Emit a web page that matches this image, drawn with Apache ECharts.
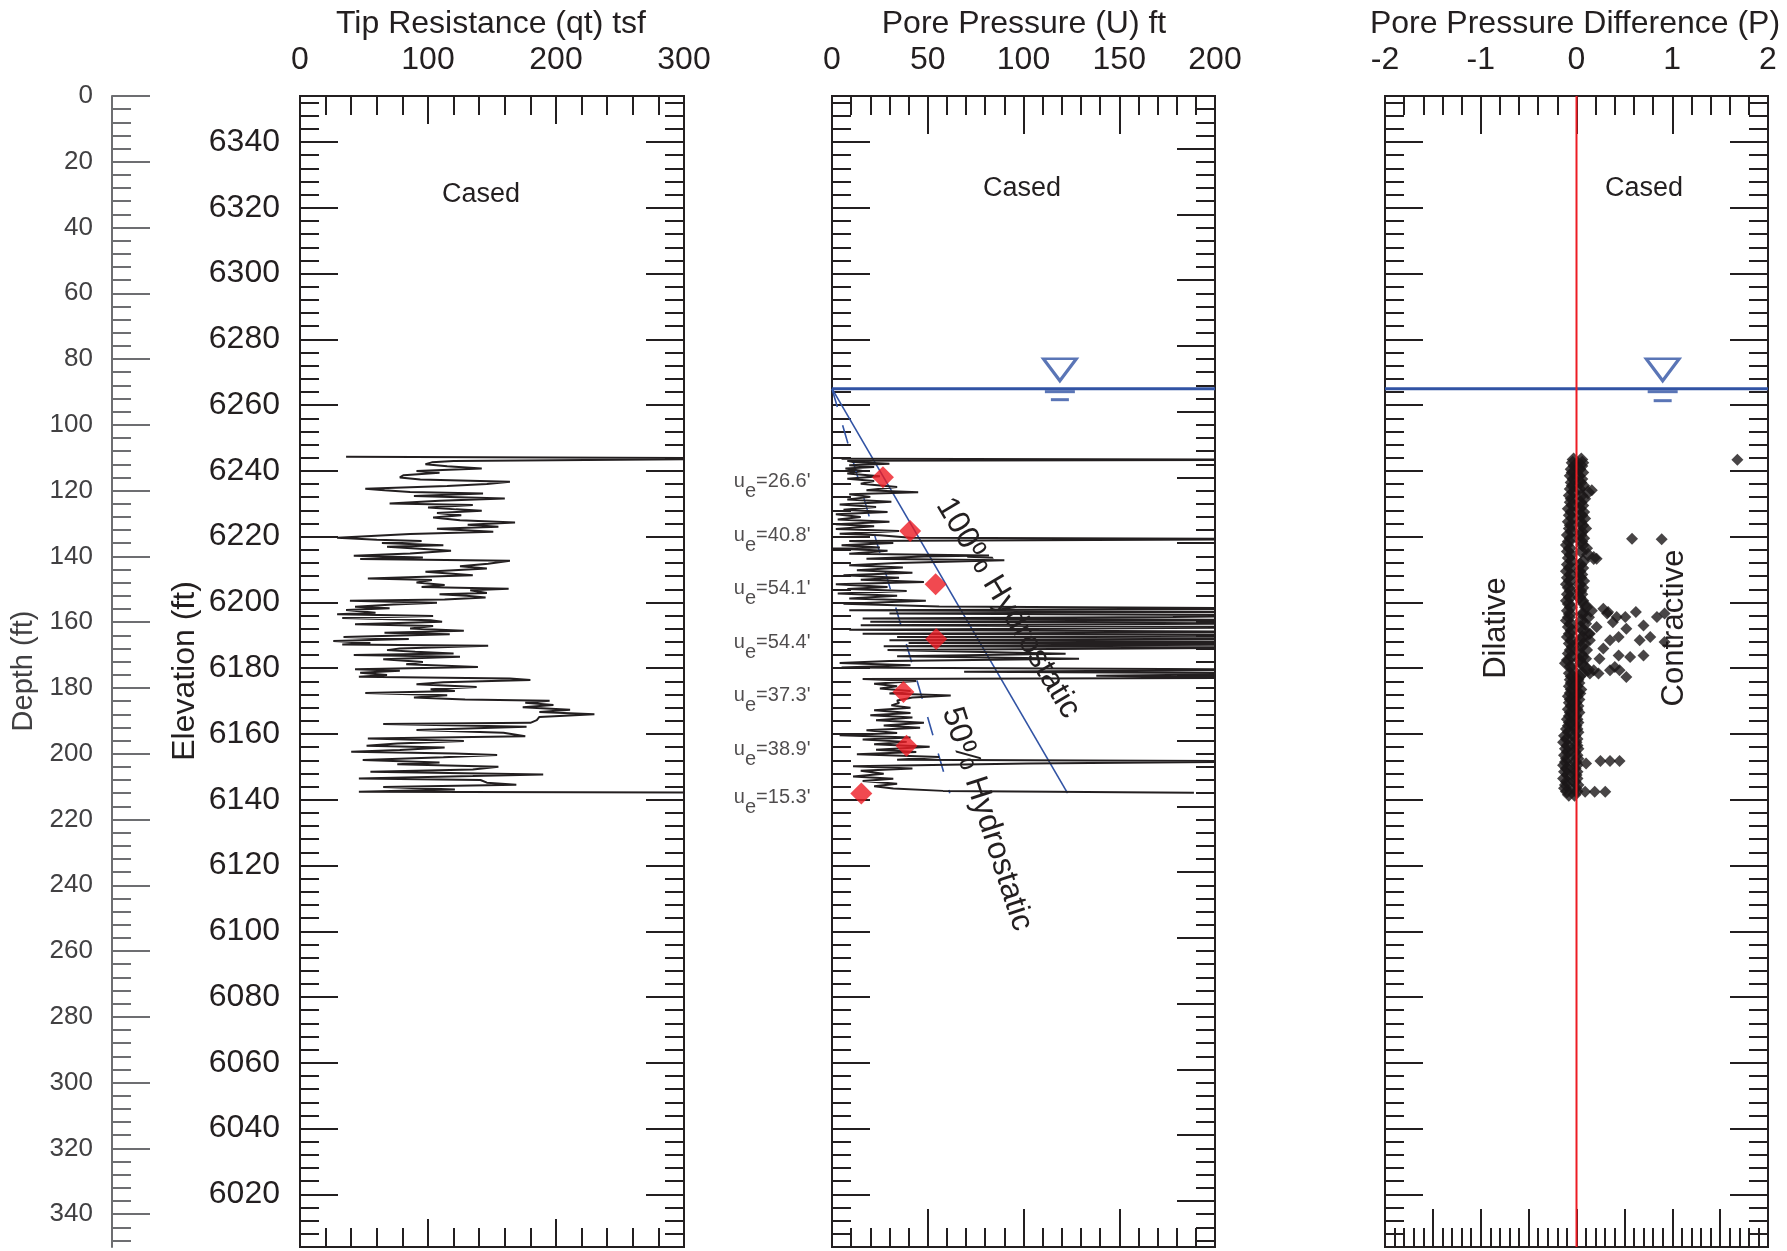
<!DOCTYPE html>
<html>
<head>
<meta charset="utf-8" />
<title>CPT Sounding Log</title>
<script src="https://cdn.jsdelivr.net/npm/echarts@6.0.0/dist/echarts.min.js"></script>
<style>
  html, body { margin: 0; padding: 0; background: #fff; }
  #chart { width: 1787px; height: 1251px; }
</style>
</head>
<body>
<div id="chart"></div>
<script type="text/javascript">
  var FONT = '"Liberation Sans", Arial, Helvetica, sans-serif';
  var INK = '#231f20';
  var GREY = '#6d6e71';
  var BLUE = '#3153a4';
  var RED = '#ed1c24';

  // depth frame
  var DEPTH_MAX = 350;
  var GROUND_ELEV = 6354;
  var WATER_DEPTH = 89;

  var depthTicks = [0, 20, 40, 60, 80, 100, 120, 140, 160, 180, 200, 220, 240, 260, 280, 300, 320, 340];
  var elevTicks = [6340, 6320, 6300, 6280, 6260, 6240, 6220, 6200, 6180, 6160, 6140, 6120, 6100, 6080, 6060, 6040, 6020];
  // the right-hand scale of the pore pressure panel is drawn 2 ft lower
  var poreRightTicks = [16, 36, 56, 76, 96, 116, 136, 156, 176, 196, 216, 236, 256, 276, 296, 316, 336];

  // tip resistance qt (tsf) against depth (ft)
  var tipDepth = [109.7, 110.2, 111.0, 111.4, 112.0, 112.6, 113.3, 114.0, 114.6, 115.3, 116.0, 116.6, 117.3, 118.0, 118.6,
    119.4, 119.9, 120.4, 120.9, 121.6, 122.4, 123.1, 123.9, 124.4, 125.1, 125.7, 126.1, 126.8, 127.5, 128.2, 129.0, 129.7,
    130.4, 131.0, 131.6, 132.5, 133.2, 134.3, 134.9, 135.3, 135.9, 136.6, 137.1, 137.8, 138.3, 139.1, 139.8, 140.3, 140.8,
    141.3, 142.2, 143.0, 143.7, 144.7, 145.7, 146.7, 147.2, 147.9, 148.7, 149.3, 149.8, 150.3, 151.1, 151.5, 152.0, 152.5,
    153.1, 153.5, 154.1, 154.6, 155.3, 155.8, 156.3, 157.1, 157.6, 158.1, 158.7, 159.4, 159.9, 160.6, 161.2, 161.9, 162.6,
    163.2, 163.7, 164.5, 165.1, 165.7, 166.3, 166.8, 167.2, 168.0, 168.5, 169.0, 169.5, 170.0, 170.5, 171.3, 172.1, 172.8,
    173.6, 174.3, 174.8, 175.4, 176.1, 176.6, 177.1, 177.6, 178.3, 178.9, 179.7, 180.4, 180.9, 181.5, 182.2, 182.9, 183.5,
    183.9, 184.5, 185.2, 185.9, 186.6, 187.3, 188.0, 188.8, 189.8, 190.6, 191.0, 191.8, 192.8, 193.6, 194.7, 195.4, 196.1,
    196.9, 197.6, 198.1, 198.9, 199.4, 199.9, 200.4, 201.1, 201.9, 202.7, 203.2, 204.0, 204.8, 205.5, 206.3, 206.8, 207.5,
    208.0, 208.8, 209.4, 210.1, 210.9, 211.6, 211.9];
  var tipQt = [36, 400, 120, 103, 98, 115, 142, 91, 109, 81, 78, 94, 164, 146, 115,
    51, 66, 86, 143, 89, 160, 109, 70, 135, 100, 122, 142, 107, 126, 104, 125, 168,
    131, 155, 107, 151, 86, 29, 60, 95, 64, 112, 68, 100, 118, 86, 42, 96, 47,
    164, 147, 125, 146, 98, 135, 53, 103, 91, 113, 95, 163, 133, 146, 109, 130, 145,
    113, 39, 107, 73, 43, 70, 36, 59, 29, 104, 33, 102, 111, 43, 104, 86, 128,
    66, 117, 34, 85, 26, 55, 33, 147, 78, 68, 90, 120, 42, 125, 65, 96, 83,
    139, 43, 78, 47, 68, 46, 164, 180, 112, 91, 138, 102, 121, 51, 115, 89, 129,
    195, 176, 198, 174, 211, 187, 230, 187, 185, 180, 65, 177, 91, 159, 176, 53, 128,
    76, 52, 113, 78, 40, 121, 154, 112, 49, 109, 76, 155, 135, 55, 190, 135, 46,
    141, 146, 169, 65, 121, 46, 400];

  // pore pressure U (ft of water) against depth (ft)
  var poreDepth = [110.3, 110.6, 110.9, 111.3, 111.8, 112.3, 112.8, 113.3, 114.0, 114.8, 115.6, 116.4, 117.1, 117.9, 118.9,
    119.9, 120.5, 121.1, 121.9, 122.7, 123.4, 124.2, 125.0, 125.8, 126.5, 127.2, 128.0, 128.8, 129.5, 130.2, 130.8, 131.7,
    132.3, 133.1, 133.6, 134.3, 134.7, 135.3, 135.9, 136.6, 137.3, 137.6, 138.3, 139.2, 139.7, 140.0, 140.7, 141.2, 142.0, 142.7,
    143.4, 144.2, 145.0, 145.7, 146.5, 147.1, 147.8, 148.5, 149.3, 149.9, 150.5, 151.3, 152.0, 152.8, 153.5, 154.4, 155.2,
    155.9, 156.4, 156.9, 157.4, 157.9, 158.4, 158.9, 159.4, 159.9, 160.4, 160.9, 161.5, 162.3, 163.0, 163.5, 164.0, 164.5,
    165.0, 165.5, 166.0, 166.3, 166.7, 167.3, 167.7, 168.5, 169.6, 170.4, 171.1, 171.8, 172.4, 173.1, 173.8, 174.4, 175.1,
    175.6, 176.3, 176.9, 177.3, 177.9, 178.7, 179.5, 180.2, 180.9, 181.7, 182.3, 182.9, 183.8, 184.6, 185.3, 186.0, 186.8,
    187.6, 188.3, 189.0, 189.8, 190.6, 191.4, 192.1, 192.9, 193.7, 194.4, 195.1, 195.7, 196.4, 197.1, 197.9, 198.8, 199.5,
    200.2, 201.0, 201.8, 202.3, 203.0, 203.8, 204.5, 205.2, 206.1, 206.9, 207.6, 208.3, 209.1, 209.9, 210.6, 211.3, 211.9];
  var poreU = [5, 250, 8, 11, 30, 9, 22, 7, 16, 8, 25, 8, 22, 15, 34,
    18, 45, 9, 20, 8, 31, 4, 23, 6, 29, 2, 15, 3, 30, 2, 22, 2,
    35, 4, 25, 41, 250, 9, 32, 5, 25, 0, 29, 9, 82, 48, 18, 90, 34, 9,
    37, 13, 42, 6, 35, 15, 48, 2, 29, 8, 39, 3, 34, 9, 49, 6, 56,
    250, 9, 250, 30, 250, 178, 16, 250, 20, 250, 15, 250, 9, 250, 16, 250, 34,
    250, 30, 250, 40, 250, 27, 250, 29, 122, 34, 129, 30, 4, 41, 5, 250, 69,
    250, 138, 250, 16, 44, 22, 34, 25, 41, 30, 62, 42, 34, 35, 31, 41, 22,
    41, 20, 42, 23, 48, 27, 46, 18, 34, 4, 41, 16, 39, 22, 51, 23, 44,
    13, 56, 34, 250, 102, 11, 42, 15, 27, 11, 32, 16, 34, 22, 32, 58, 189];

  // 100% and 50% hydrostatic lines, start and end
  var hydro100 = [[0, 89], [123, 212]];
  var hydro50 = [[0, 89], [61.5, 212]];

  // equilibrium pore pressure readings
  var ueDepth = [115.9, 132.3, 148.5, 165.1, 181.2, 197.6, 212.1];
  var ueValue = [26.6, 40.8, 54.1, 54.4, 37.3, 38.9, 15.3];

  // pore pressure difference: dense column, two readings per depth
  var diffColDepth = [110.5, 111.5, 112.5, 113.5, 114.5, 115.5, 116.5, 117.5, 118.5, 119.5,
    120.5, 121.5, 122.5, 123.5, 124.5, 125.5, 126.5, 127.5, 128.5, 129.5,
    130.5, 131.5, 132.5, 133.5, 134.5, 135.5, 136.5, 137.5, 138.5, 139.5,
    140.5, 141.5, 142.5, 143.5, 144.5, 145.5, 146.5, 147.5, 148.5, 149.5,
    150.5, 151.5, 152.5, 153.5, 154.5, 155.5, 156.5, 157.5, 158.5, 159.5,
    160.5, 161.5, 162.5, 163.5, 164.5, 165.5, 166.5, 167.5, 168.5, 169.5,
    170.5, 171.5, 172.5, 173.5, 174.5, 175.5, 176.5, 177.5, 178.5, 179.5,
    180.5, 181.5, 182.5, 183.5, 184.5, 185.5, 186.5, 187.5, 188.5, 189.5,
    190.5, 191.5, 192.5, 193.5, 194.5, 195.5, 196.5, 197.5, 198.5, 199.5,
    200.5, 201.5, 202.5, 203.5, 204.5, 205.5, 206.5, 207.5, 208.5, 209.5,
    210.5, 211.5, 212.5];
  var diffColLeft = [-0.03, -0.04, -0.02, -0.05, -0.04, -0.06, -0.03, -0.05, -0.04, -0.06,
    -0.03, -0.07, -0.05, -0.06, -0.04, -0.08, -0.05, -0.07, -0.04, -0.08,
    -0.06, -0.07, -0.05, -0.09, -0.06, -0.08, -0.10, -0.07, -0.09, -0.06,
    -0.08, -0.05, -0.09, -0.07, -0.10, -0.06, -0.09, -0.07, -0.10, -0.08,
    -0.06, -0.09, -0.07, -0.10, -0.08, -0.06, -0.09, -0.07, -0.08, -0.10,
    -0.06, -0.08, -0.05, -0.07, -0.09, -0.05, -0.07, -0.04, -0.06, -0.08,
    -0.05, -0.09, -0.11, -0.06, -0.04, -0.07, -0.05, -0.06, -0.05, -0.07,
    -0.05, -0.06, -0.08, -0.06, -0.07, -0.05, -0.08, -0.06, -0.07, -0.09,
    -0.07, -0.08, -0.10, -0.08, -0.12, -0.10, -0.13, -0.09, -0.11, -0.09,
    -0.12, -0.10, -0.11, -0.13, -0.10, -0.12, -0.09, -0.13, -0.10, -0.11,
    -0.12, -0.10, -0.08];
  var diffColRight = [0.05, 0.06, 0.05, 0.03, 0.06, 0.02, 0.05, 0.04, 0.07, 0.03,
    0.12, 0.05, 0.08, 0.04, 0.06, 0.03, 0.07, 0.05, 0.08, 0.04,
    0.06, 0.09, 0.05, 0.04, 0.07, 0.05, 0.06, 0.10, 0.05, 0.12,
    0.18, 0.07, 0.04, 0.06, 0.03, 0.05, 0.04, 0.07, 0.03, 0.06,
    0.04, 0.05, 0.03, 0.06, 0.08, 0.10, 0.15, 0.06, 0.12, 0.05,
    0.09, 0.04, 0.07, 0.12, 0.06, 0.04, 0.08, 0.05, 0.10, 0.04,
    0.06, 0.03, 0.05, 0.08, 0.12, 0.06, 0.03, 0.01, 0.02, 0.00,
    0.04, 0.01, 0.00, 0.02, -0.01, 0.01, 0.00, 0.02, -0.01, 0.00,
    0.01, -0.01, 0.00, 0.01, -0.02, 0.00, -0.01, 0.00, 0.01, -0.02,
    0.00, 0.01, -0.01, 0.00, -0.02, 0.00, -0.01, 0.00, -0.02, 0.01,
    -0.01, 0.00, -0.02];
  // scattered contractive readings [P, depth]
  var diffExtra = [[1.68, 110.6], [0.16, 119.9], [0.58, 134.6], [0.89, 134.8], [0.21, 140.7],
    [0.28, 155.9], [0.33, 156.9], [0.42, 158.4], [0.51, 158.4], [0.62, 156.9], [0.84, 158.4], [0.92, 157.4],
    [0.21, 161.5], [0.38, 160.0], [0.52, 162.0], [0.70, 161.0], [0.77, 164.5], [0.66, 165.5], [0.92, 166.0],
    [0.35, 165.5], [0.44, 164.5], [0.14, 165.5], [0.24, 171.1], [0.10, 171.1], [0.44, 170.1], [0.56, 170.6],
    [0.70, 170.1], [0.18, 174.6], [0.35, 174.6], [0.45, 174.6], [0.52, 176.7], [0.14, 175.6], [0.07, 157.4],
    [0.04, 181.7], [0.32, 157.4], [0.14, 163.5], [0.28, 168.0], [0.40, 173.6], [0.23, 175.6],
    [0.10, 203.0], [0.25, 202.2], [0.35, 202.2], [0.45, 202.2],
    [0.09, 211.6], [0.19, 211.6], [0.30, 211.6]];

  // water table symbol positions
  var waterMarkU = 119;
  var waterMarkP = 0.9;

  function pairs(xs, ys) {
    return xs.map(function (x, i) { return [x, ys[i]]; });
  }
  function tickRun(start, step, skip) {
    var out = [];
    for (var d = start; d < DEPTH_MAX; d += step) {
      if (skip.indexOf(d) < 0) out.push(d);
    }
    return out;
  }

  var elevMajor = elevTicks.map(function (e) { return GROUND_ELEV - e; });
  var elevMinor = tickRun(2, 4, elevMajor);
  var depthMinor = tickRun(4, 4, depthTicks);
  var poreRightMinor = tickRun(4, 4, poreRightTicks);

  var grids = [
    { left: 112, top: 96, width: 40, height: 1151, show: false },
    { left: 300, top: 96, width: 384, height: 1151 },
    { left: 832, top: 96, width: 383, height: 1151 },
    { left: 1385, top: 96, width: 383, height: 1151 }
  ].map(function (g, i) {
    if (i > 0) { g.show = true; g.borderColor = INK; g.borderWidth = 2; g.backgroundColor = 'transparent'; }
    return g;
  });

  function xTick(gridIndex, position, min, max, interval, len, showLabel) {
    return {
      type: 'value', gridIndex: gridIndex, position: position,
      min: min, max: max, interval: interval,
      axisLine: { show: false, onZero: false },
      splitLine: { show: false },
      axisTick: { show: true, inside: true, length: len, lineStyle: { color: INK, width: 2 } },
      minorTick: { show: true, splitNumber: 5, length: 19, lineStyle: { color: INK, width: 2 } },
      axisLabel: { show: showLabel, fontSize: 32, color: INK, fontFamily: FONT, margin: 20 }
    };
  }

  function yTick(gridIndex, position, values, len, color) {
    return {
      type: 'value', gridIndex: gridIndex, position: position, inverse: true,
      min: 0, max: DEPTH_MAX,
      axisLine: { show: false, onZero: false },
      splitLine: { show: false },
      axisTick: { show: true, inside: true, length: len, customValues: values,
        lineStyle: { color: color || INK, width: 2 } },
      axisLabel: { show: false }
    };
  }

  var xAxes = [
    { type: 'value', gridIndex: 0, min: 0, max: 1, show: false, axisLine: { onZero: false } },
    xTick(1, 'top', 0, 300, 100, 28, true),
    xTick(1, 'bottom', 0, 300, 100, 28, false),
    xTick(2, 'top', 0, 200, 50, 38, true),
    xTick(2, 'bottom', 0, 200, 50, 38, false),
    xTick(3, 'top', -2, 2, 1, 38, true),
    xTick(3, 'bottom', -2, 2, 0.5, 38, false)
  ];

  var depthAxis = yTick(0, 'left', depthTicks, 38, GREY);
  depthAxis.axisLine = { show: true, onZero: false, lineStyle: { color: GREY, width: 2 } };
  depthAxis.axisLabel = { show: true, customValues: depthTicks, fontSize: 26, color: '#414042',
    fontFamily: FONT, margin: 19 };

  var elevAxis = yTick(1, 'left', elevMajor, 38);
  elevAxis.axisLabel = { show: true, customValues: elevMajor, fontSize: 32, color: INK, fontFamily: FONT,
    margin: 20, formatter: function (v) { return String(GROUND_ELEV - v); } };

  var yAxes = [
    depthAxis,                                 // 0
    yTick(0, 'left', depthMinor, 19, GREY),    // 1
    elevAxis,                                  // 2  tip panel
    yTick(1, 'left', elevMinor, 19),           // 3
    yTick(1, 'right', elevMajor, 38),          // 4
    yTick(1, 'right', elevMinor, 19),          // 5
    yTick(2, 'left', elevMajor, 38),           // 6  pore panel
    yTick(2, 'left', elevMinor, 19),           // 7
    yTick(2, 'right', poreRightTicks, 38),     // 8
    yTick(2, 'right', poreRightMinor, 19),     // 9
    yTick(3, 'left', elevMajor, 38),           // 10 difference panel
    yTick(3, 'left', elevMinor, 19),           // 11
    yTick(3, 'right', elevMajor, 38),          // 12
    yTick(3, 'right', elevMinor, 19)           // 13
  ];

  var rich = {
    u: { fontSize: 20, fontFamily: FONT, color: INK, verticalAlign: 'middle' },
    s: { fontSize: 20, fontFamily: FONT, color: INK, verticalAlign: 'middle', padding: [20, 0, 0, 0] },
    t: { fontSize: 20, fontFamily: FONT, color: INK, verticalAlign: 'middle' }
  };

  var hollow = { color: 'rgba(0,0,0,0)', borderColor: BLUE, borderWidth: 3 };
  var TRI = 'path://M0,0L36,0L18,24Z';

  var series = [
    { name: 'qt', type: 'line', xAxisIndex: 1, yAxisIndex: 2, data: pairs(tipQt, tipDepth),
      symbol: 'none', lineStyle: { color: INK, width: 2 }, clip: true, z: 3 },
    { name: 'hydro100', type: 'line', xAxisIndex: 3, yAxisIndex: 6, data: hydro100,
      symbol: 'none', lineStyle: { color: BLUE, width: 1.6 }, z: 2 },
    { name: 'hydro50', type: 'line', xAxisIndex: 3, yAxisIndex: 6, data: hydro50,
      symbol: 'none', lineStyle: { color: BLUE, width: 1.6, type: [19, 19] }, z: 2 },
    { name: 'U', type: 'line', xAxisIndex: 3, yAxisIndex: 6, data: pairs(poreU, poreDepth),
      symbol: 'none', lineStyle: { color: INK, width: 2 }, clip: true, z: 3 },
    { name: 'water2', type: 'line', xAxisIndex: 3, yAxisIndex: 6,
      data: [[0, WATER_DEPTH], [200, WATER_DEPTH]], symbol: 'none', lineStyle: { color: BLUE, width: 3 }, z: 4 },
    { name: 'water3', type: 'line', xAxisIndex: 5, yAxisIndex: 10,
      data: [[-2, WATER_DEPTH], [2, WATER_DEPTH]], symbol: 'none', lineStyle: { color: BLUE, width: 3 }, z: 4 },
    { name: 'wtMark', type: 'scatter', xAxisIndex: 3, yAxisIndex: 6, z: 4,
      data: [
        { value: [waterMarkU, WATER_DEPTH], symbol: TRI, symbolSize: [33, 22], symbolOffset: [0, -19], itemStyle: hollow },
        { value: [waterMarkU, WATER_DEPTH], symbol: 'rect', symbolSize: [30, 3], symbolOffset: [0, 3] },
        { value: [waterMarkU, WATER_DEPTH], symbol: 'rect', symbolSize: [18, 3], symbolOffset: [0, 11] }
      ],
      itemStyle: { color: BLUE } },
    { name: 'wtMark3', type: 'scatter', xAxisIndex: 5, yAxisIndex: 10, z: 4,
      data: [
        { value: [waterMarkP, WATER_DEPTH], symbol: TRI, symbolSize: [33, 22], symbolOffset: [0, -19], itemStyle: hollow },
        { value: [waterMarkP, WATER_DEPTH], symbol: 'rect', symbolSize: [30, 3], symbolOffset: [0, 3] },
        { value: [waterMarkP, WATER_DEPTH], symbol: 'rect', symbolSize: [18, 3], symbolOffset: [0, 12] }
      ],
      itemStyle: { color: BLUE } },
    { name: 'ue', type: 'scatter', xAxisIndex: 3, yAxisIndex: 6, data: pairs(ueValue, ueDepth),
      symbol: 'diamond', symbolSize: 22, itemStyle: { color: RED }, z: 6 },
    { name: 'ueLabel', type: 'scatter', xAxisIndex: 3, yAxisIndex: 6,
      data: ueDepth.map(function (d, i) { return [0, d, ueValue[i]]; }),
      symbolSize: 1, itemStyle: { color: 'rgba(0,0,0,0)' }, clip: false, z: 6,
      label: { show: true, position: 'left', distance: 21, offset: [0, 4],
        formatter: function (p) { return '{u|u}{s|e}{t|=' + p.value[2].toFixed(1) + "'}"; },
        rich: rich } },
    { name: 'Pcol', type: 'scatter', xAxisIndex: 5, yAxisIndex: 10,
      data: pairs(diffColLeft, diffColDepth).concat(pairs(diffColRight, diffColDepth)),
      symbol: 'diamond', symbolSize: 14, itemStyle: { color: '#1a1718' }, z: 3 },
    { name: 'Pextra', type: 'scatter', xAxisIndex: 5, yAxisIndex: 10, data: diffExtra,
      symbol: 'diamond', symbolSize: 12, itemStyle: { color: '#1a1718' }, z: 3 },
    { name: 'zero', type: 'line', xAxisIndex: 5, yAxisIndex: 10, data: [[0, 0], [0, DEPTH_MAX]],
      symbol: 'none', lineStyle: { color: RED, width: 2 }, z: 7 }
  ];

  function txt(str, x, y, size, rotDeg, color, z) {
    return {
      type: 'text', x: x, y: y, rotation: (rotDeg || 0) * Math.PI / 180, z: z || 10,
      style: { text: str, font: size + 'px ' + FONT, fill: color || INK,
        align: 'center', verticalAlign: 'middle', textAlign: 'center', textVerticalAlign: 'middle' }
    };
  }

  var labels = [
    txt('Tip Resistance (qt) tsf', 491, 24, 32),
    txt('Pore Pressure (U) ft', 1024, 24, 32),
    txt('Pore Pressure Difference (P)', 1575, 24, 32),
    txt('Cased', 481, 195, 27),
    txt('Cased', 1022, 189, 27),
    txt('Cased', 1644, 189, 27),
    txt('Depth (ft)', 24, 671, 29, 90, '#414042'),
    txt('Elevation (ft)', 185, 671, 32, 90),
    txt('100% Hydrostatic', 1008, 608, 32, -59, INK, 1),
    txt('50% Hydrostatic', 987, 819, 32, -72, INK, 1),
    txt('Dilative', 1496, 628, 31, 90),
    txt('Contractive', 1674, 628, 31, 90, INK, 1)
  ];

  var myChart = echarts.init(document.getElementById('chart'));
  myChart.setOption({
    animation: false,
    backgroundColor: '#ffffff',
    textStyle: { fontFamily: FONT },
    grid: grids,
    xAxis: xAxes,
    yAxis: yAxes,
    graphic: { elements: labels },
    series: series
  });
</script>
</body>
</html>
